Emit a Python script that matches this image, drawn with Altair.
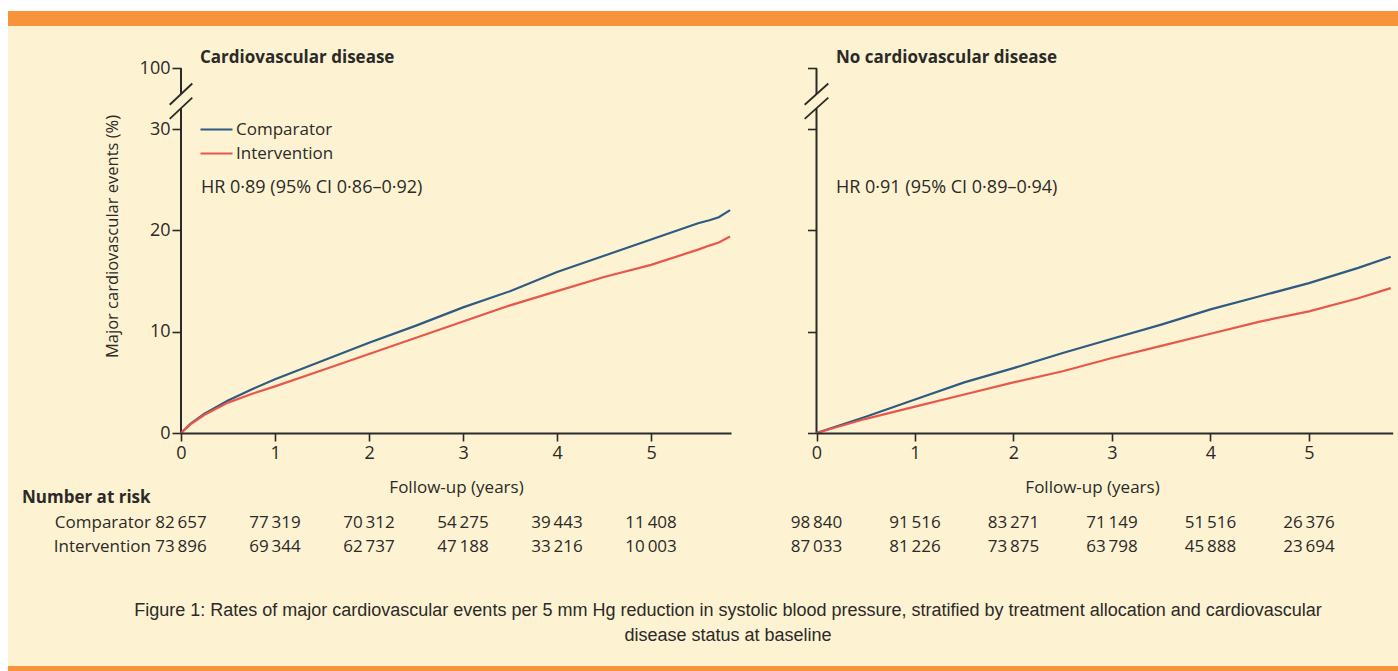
import altair as alt
import pandas as pd

# ---------------------------------------------------------------- data
arms = ["Comparator", "Intervention"]

# cumulative incidence of major cardiovascular events (%) against follow-up (years)
cvd_years = [0, 0.1, 0.25, 0.5, 0.75, 1, 1.5, 2, 2.5, 3, 3.5, 4, 4.5, 5, 5.5, 5.62, 5.72, 5.84]
cvd_comparator = [0, 0.9, 1.9, 3.2, 4.3, 5.3, 7.1, 8.9, 10.6, 12.4, 14.0, 15.9, 17.5, 19.1, 20.7, 21.0, 21.3, 22.0]
cvd_intervention = [0, 0.85, 1.8, 3.0, 3.85, 4.6, 6.2, 7.8, 9.4, 11.0, 12.6, 14.0, 15.4, 16.6, 18.1, 18.5, 18.8, 19.4]

nocvd_years = [0, 0.5, 1, 1.5, 2, 2.5, 3, 3.5, 4, 4.5, 5, 5.5, 5.83]
nocvd_comparator = [0, 1.6, 3.3, 5.0, 6.4, 7.9, 9.3, 10.7, 12.2, 13.5, 14.8, 16.3, 17.4]
nocvd_intervention = [0, 1.4, 2.6, 3.8, 5.0, 6.1, 7.4, 8.6, 9.8, 11.0, 12.0, 13.3, 14.3]

# number at risk at the start of each follow-up year
risk_years = [0, 1, 2, 3, 4, 5]
cvd_risk_comparator = [82657, 77319, 70312, 54275, 39443, 11408]
cvd_risk_intervention = [73896, 69344, 62737, 47188, 33216, 10003]
nocvd_risk_comparator = [98840, 91516, 83271, 71149, 51516, 26376]
nocvd_risk_intervention = [87033, 81226, 73875, 63798, 45888, 23694]

# axis ticks; the top tick sits above the axis break and stands for 100%
x_ticks = [0, 1, 2, 3, 4, 5]
y_ticks = [0, 10, 20, 30, 36]
y_break_top = 36
# broken y-axis: spine pieces and the two break slashes (axis units)
spine_from = [0, 33.45]
spine_to = [32.05, 36]
slash_y_from = [32.4, 31.0]
slash_y_to = [34.5, 33.1]
slash_half_width = 0.12

hr_texts = ["HR 0·89 (95% CI 0·86–0·92)", "HR 0·91 (95% CI 0·89–0·94)"]
panel_titles = ["Cardiovascular disease", "No cardiovascular disease"]
caption_lines = [
    "Figure 1: Rates of major cardiovascular events per 5 mm Hg reduction in systolic blood pressure, "
    "stratified by treatment allocation and cardiovascular",
    "disease status at baseline",
]

# ---------------------------------------------------------------- style
INK = "#2b2a28"
CREAM = "#fdf3d2"
ORANGE = "#f7933a"
BLUE = "#2f5b82"
RED = "#e8564c"
FONT = "Open Sans"
CAPTION_FONT = "Liberation Sans"
FS = 17

W, H = 1398, 671
Y_RANGE = [433, 68.3]
X_MAX = 5.85

one = pd.DataFrame({"k": [0]})

color_scale = alt.Scale(domain=arms, range=[BLUE, RED])
legend = alt.Legend(
    orient="none", legendX=208, legendY=121, title=None,
    symbolType="M-4,0H4", symbolSize=64, symbolStrokeWidth=2,
    labelFont=FONT, labelFontSize=FS, labelColor=INK, labelOffset=11,
    rowPadding=6, padding=0,
)


def fmt(n):
    s = f"{n:,}"
    return s.replace(",", "\u2009")


def panel(years, comp, interv, risk_c, risk_i, x_range, x_title_x, y_labels):
    xs = alt.Scale(domain=[0, X_MAX], range=x_range, nice=False, zero=False)
    ys = alt.Scale(domain=[0, y_break_top], range=Y_RANGE, nice=False, zero=False)
    x_axis = alt.Axis(
        values=x_ticks, orient="bottom", offset=-(H - Y_RANGE[0]), grid=False, zindex=2,
        domainColor=INK, domainWidth=2, tickColor=INK, tickWidth=1.6, tickSize=8,
        labelFont=FONT, labelFontSize=18, labelColor=INK, labelPadding=3, labelFlush=False,
        title="Follow-up (years)", titleFont=FONT, titleFontSize=FS,
        titleFontWeight="normal", titleColor=INK, titleX=x_title_x, titleY=54,
        titleBaseline="middle", titleAlign="center",
    )
    if y_labels:
        y_axis = alt.Axis(
            values=y_ticks, orient="left", offset=-x_range[0], grid=False, domain=False, zindex=2,
            tickColor=INK, tickWidth=1.6, tickSize=9, labelFlush=False,
            labelFont=FONT, labelFontSize=18, labelColor=INK, labelPadding=2,
            labelExpr=f"datum.value === {y_break_top} ? '100' : datum.label",
            title="Major cardiovascular events (%)", titleFont=FONT, titleFontSize=16.5,
            titleFontWeight="normal", titleColor=INK, titleAngle=270,
            titleX=-69, titleY=236, titleAlign="center", titleBaseline="middle",
        )
    else:
        y_axis = alt.Axis(
            values=y_ticks, orient="left", offset=-x_range[0], grid=False, domain=False, zindex=2,
            tickColor=INK, tickWidth=1.6, tickSize=9, labels=False, title=None,
        )

    def X(field):
        return alt.X(field, type="quantitative", scale=xs, axis=x_axis)

    def Y(field):
        return alt.Y(field, type="quantitative", scale=ys, axis=y_axis)

    curves = pd.DataFrame({
        "t": years + years,
        "v": comp + interv,
        "arm": [arms[0]] * len(years) + [arms[1]] * len(years),
    })
    lines = alt.Chart(curves).mark_line(strokeWidth=2.2).encode(
        x=X("t"), y=Y("v"),
        color=alt.Color("arm:N", scale=color_scale, legend=legend),
        detail="arm:N",
    )

    spine = alt.Chart(pd.DataFrame({"x": [0, 0], "y": spine_from, "y2": spine_to})).mark_rule(
        color=INK, strokeWidth=2
    ).encode(x=X("x"), y=Y("y"), y2="y2:Q")

    slashes = alt.Chart(pd.DataFrame({
        "x": [-slash_half_width] * 2, "x2": [slash_half_width] * 2,
        "y": slash_y_from, "y2": slash_y_to,
    })).mark_rule(color=INK, strokeWidth=1.8).encode(
        x=X("x"), x2="x2:Q", y=Y("y"), y2="y2:Q"
    )

    risk = pd.DataFrame({
        "t": risk_years,
        "c": [fmt(n) for n in risk_c],
        "i": [fmt(n) for n in risk_i],
    })
    risk_c_txt = alt.Chart(risk).mark_text(
        font=FONT, fontSize=FS, color=INK, align="center", baseline="middle"
    ).encode(x=X("t"), y=alt.value(523), text="c:N")
    risk_i_txt = alt.Chart(risk).mark_text(
        font=FONT, fontSize=FS, color=INK, align="center", baseline="middle"
    ).encode(x=X("t"), y=alt.value(547), text="i:N")

    return alt.layer(spine, slashes, lines, risk_c_txt, risk_i_txt)


def band(x1, x2, y1, y2, color):
    return alt.Chart(one).mark_rect(color=color).encode(
        x=alt.value(x1), x2=alt.value(x2), y=alt.value(y1), y2=alt.value(y2)
    )


def label(text, x, y, weight="normal", align="left", font=FONT, size=FS):
    return alt.Chart(one).mark_text(
        text=text, font=font, fontSize=size, fontWeight=weight, align=align,
        baseline="middle", color=INK,
    ).encode(x=alt.value(x), y=alt.value(y))


frame = [
    band(8, W, 26, 666, CREAM),
    band(8, W, 11, 26, ORANGE),
    band(8, W, 666, H, ORANGE),
]

panel_cvd = panel(cvd_years, cvd_comparator, cvd_intervention,
                  cvd_risk_comparator, cvd_risk_intervention, [181, 731], 456, True)
panel_nocvd = panel(nocvd_years, nocvd_comparator, nocvd_intervention,
                    nocvd_risk_comparator, nocvd_risk_intervention, [816.5, 1392.7], 1092, False)

texts = [
    label(panel_titles[0], 200, 58, weight="bold"),
    label(panel_titles[1], 836, 58, weight="bold"),
    label(hr_texts[0], 201, 188, size=18),
    label(hr_texts[1], 836, 188, size=18),
    label("Number at risk", 22, 498, weight="bold"),
    label(arms[0], 151, 523, align="right"),
    label(arms[1], 151, 547, align="right"),
    label(caption_lines[0], 728, 611, align="center", font=CAPTION_FONT, size=18),
    label(caption_lines[1], 728, 636, align="center", font=CAPTION_FONT, size=18),
]

chart = alt.layer(*frame, panel_cvd, panel_nocvd, *texts).resolve_scale(
    x="independent", y="independent"
).properties(
    width=W, height=H, padding=0, background="white",
    autosize=alt.AutoSizeParams(type="none"),
).configure_view(stroke=None)

chart.save("out.html", embed_options={"renderer": "svg", "actions": False})
